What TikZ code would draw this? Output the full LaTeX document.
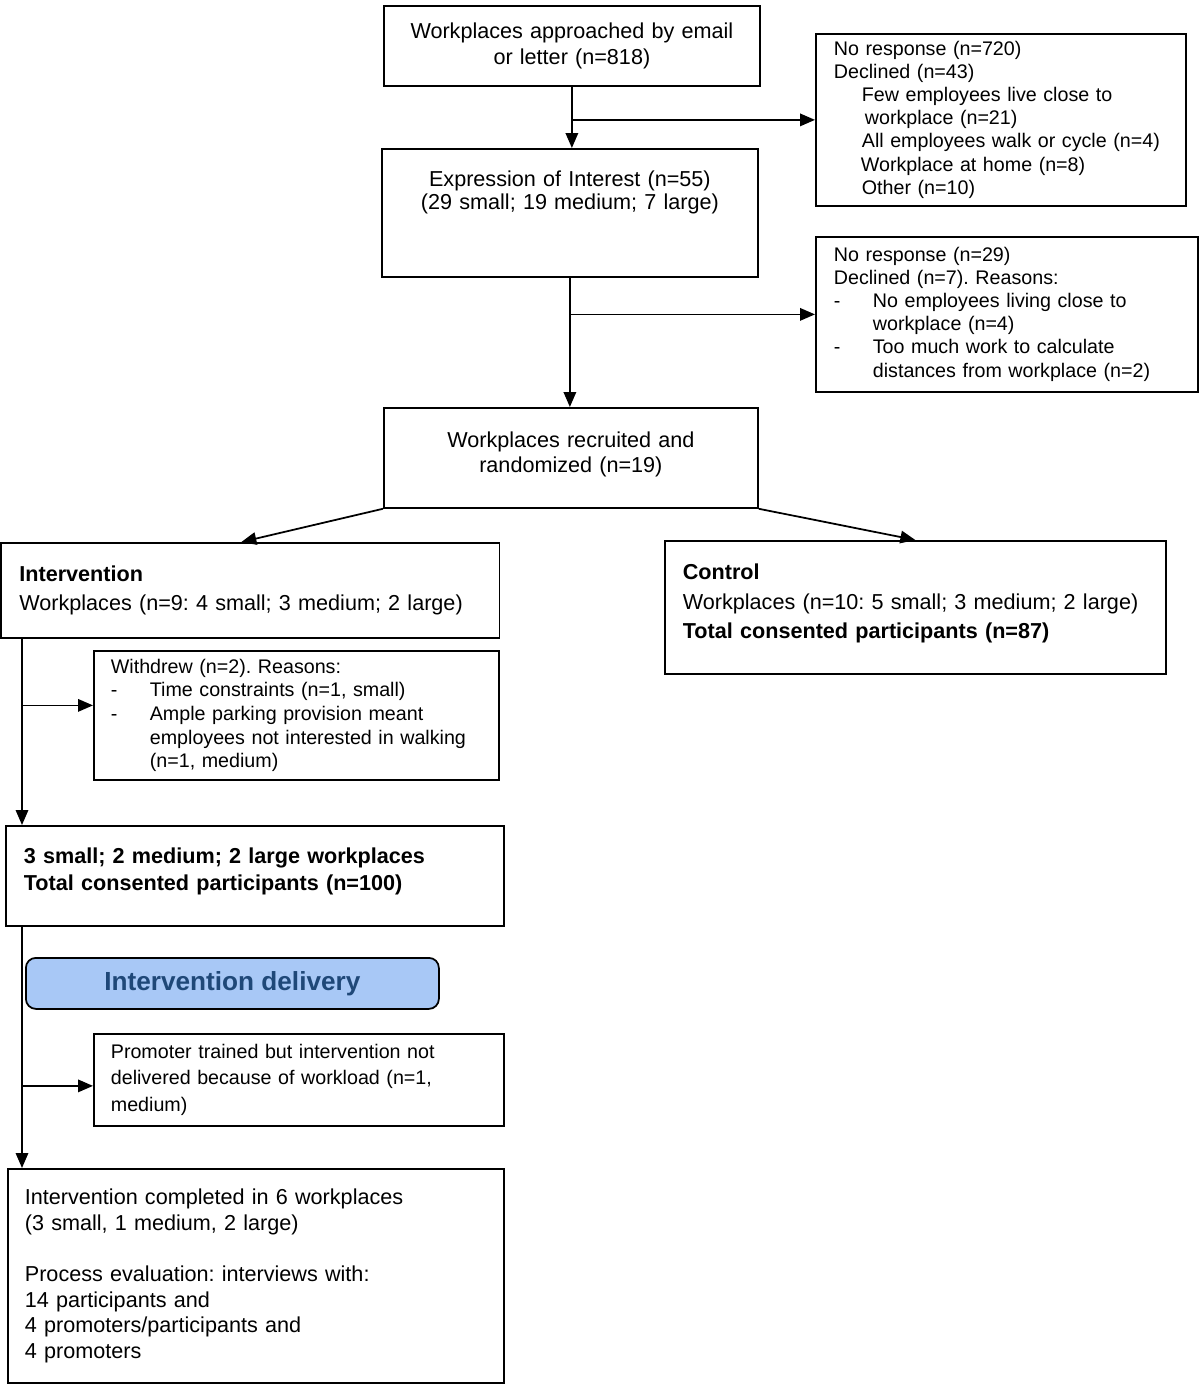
\documentclass[tikz,border=0pt]{standalone}
\usepackage{fontspec}
\setmainfont{Liberation Sans}
\usetikzlibrary{arrows.meta}
\definecolor{delivery-fill}{HTML}{A8C8F6}
\definecolor{delivery-text}{HTML}{1F4878}
\newlength\pxu
\setlength\pxu{0.02cm}
\newcommand\itemdash{\makebox[39\pxu][l]{-}}
\newcommand\itemgap{\hspace*{39\pxu}}
\frenchspacing

\begin{document}
\begin{tikzpicture}[
    x=0.02cm, y=-0.02cm,
    box/.style={
        draw, line width=1pt, anchor=north west,
        inner xsep=18\pxu, inner ysep=0pt,
        font=\fontsize{12.3}{14.6}\selectfont,
    },
    note/.style={
        box, font=\fontsize{11.2}{13.1}\selectfont,
    },
    arrow/.style={
        line width=1pt, -{Triangle[length=0.3cm, width=0.25cm]},
    },
]

\useasboundingbox (0,0) rectangle (1200,1384);

\node[box, minimum width=376\pxu, minimum height=80\pxu, text width=340\pxu, align=center]
    (approach) at (383,5) {Workplaces approached by email\\or letter (n=818)};
\node[note, minimum width=370\pxu, minimum height=172\pxu, text width=334\pxu, align=left]
    (noresp1) at (815,33) {No response (n=720)\\Declined (n=43)\\
    \hspace*{28\pxu}Few employees live close to\\
    \hspace*{31\pxu}workplace (n=21)\\
    \hspace*{28\pxu}All employees walk or cycle (n=4)\\
    \hspace*{27\pxu}Workplace at home (n=8)\\
    \hspace*{28\pxu}Other (n=10)};
\node[box, minimum width=376\pxu, minimum height=128\pxu, text width=340\pxu, align=center,
    font=\fontsize{12.3}{13.1}\selectfont]
    (interest) at (381,148) {Expression of Interest (n=55)\\(29 small; 19 medium; 7 large)\\~\\~};
\node[note, minimum width=382\pxu, minimum height=155\pxu, text width=346\pxu, align=left]
    (noresp2) at (815,236) {No response (n=29)\\Declined (n=7). Reasons:\\
    \itemdash No employees living close to\\
    \itemgap workplace (n=4)\\
    \itemdash Too much work to calculate\\
    \itemgap distances from workplace (n=2)};
\node[box, minimum width=374\pxu, minimum height=100\pxu, text width=338\pxu, align=center]
    (recruited) at (383,407) {Workplaces recruited and\\randomized (n=19)\\[-8pt]~};
\node[box, minimum width=498\pxu, minimum height=95\pxu, text width=462\pxu, align=left,
    font=\fontsize{12.3}{17}\selectfont]
    (interv) at (0.5,542) {\textbf{Intervention}\\Workplaces (n=9: 4 small; 3 medium; 2 large)};
\node[box, minimum width=501\pxu, minimum height=133\pxu, text width=465\pxu, align=left,
    font=\fontsize{12.3}{16.8}\selectfont]
    (control) at (664,540) {\textbf{Control}\\Workplaces (n=10: 5 small; 3 medium; 2 large)\\
    \textbf{Total consented participants (n=87)}\\[-10pt]~};
\node[note, minimum width=405\pxu, minimum height=129\pxu, text width=371\pxu, inner xsep=17\pxu,
    align=left, font=\fontsize{11.2}{13.5}\selectfont]
    (withdrew) at (93,650) {Withdrew (n=2). Reasons:\\
    \itemdash Time constraints (n=1, small)\\
    \itemdash Ample parking provision meant\\
    \itemgap employees not interested in walking\\
    \itemgap (n=1, medium)};
\node[box, minimum width=498\pxu, minimum height=100\pxu, text width=462\pxu, align=left,
    font=\bfseries\fontsize{12.3}{15.3}\selectfont]
    (consented) at (5,825) {3 small; 2 medium; 2 large workplaces\\Total consented participants (n=100)\\[-8pt]~};
\node[box, rounded corners=10\pxu, fill=delivery-fill, text=delivery-text, minimum width=413\pxu,
    minimum height=51\pxu, align=center, font=\bfseries\fontsize{14.9}{17}\selectfont]
    (delivery) at (25,957) {Intervention delivery};
\node[note, minimum width=410\pxu, minimum height=92\pxu, text width=376\pxu, inner xsep=17\pxu,
    align=left, font=\fontsize{11.2}{15}\selectfont]
    (promoter) at (93,1033) {Promoter trained but intervention not\\
    delivered because of workload (n=1,\\medium)};
\node[box, minimum width=496\pxu, minimum height=214\pxu, text width=462\pxu, inner xsep=17\pxu,
    align=left]
    (completed) at (7,1168) {Intervention completed in 6 workplaces\\(3 small, 1 medium, 2 large)\\[14.6pt]
    Process evaluation: interviews with:\\14 participants and\\
    4 promoters/participants and\\4 promoters};

\coordinate (spine) at (22,0);

\draw[arrow] (approach.south) -- (approach.south |- interest.north);
\draw[arrow] (approach.south |- noresp1.west) -- (noresp1.west);
\draw[arrow] (interest.south) -- (interest.south |- recruited.north);
\draw[arrow] (interest.south |- noresp2.west) -- (noresp2.west);
\draw[arrow] (recruited.south west) -- ([xshift=-9\pxu]interv.north);
\draw[arrow] (recruited.south east) -- (control.north);
\draw[arrow] (spine |- interv.south) -- (spine |- consented.north);
\draw[arrow] (spine |- withdrew.west) ++(0,-10) -- ([yshift=10\pxu]withdrew.west);
\draw[arrow] (spine |- consented.south) -- (spine |- completed.north);
\draw[arrow] (spine |- promoter.west) ++(0,6) -- ([yshift=-6\pxu]promoter.west);
\end{tikzpicture}
\end{document}
